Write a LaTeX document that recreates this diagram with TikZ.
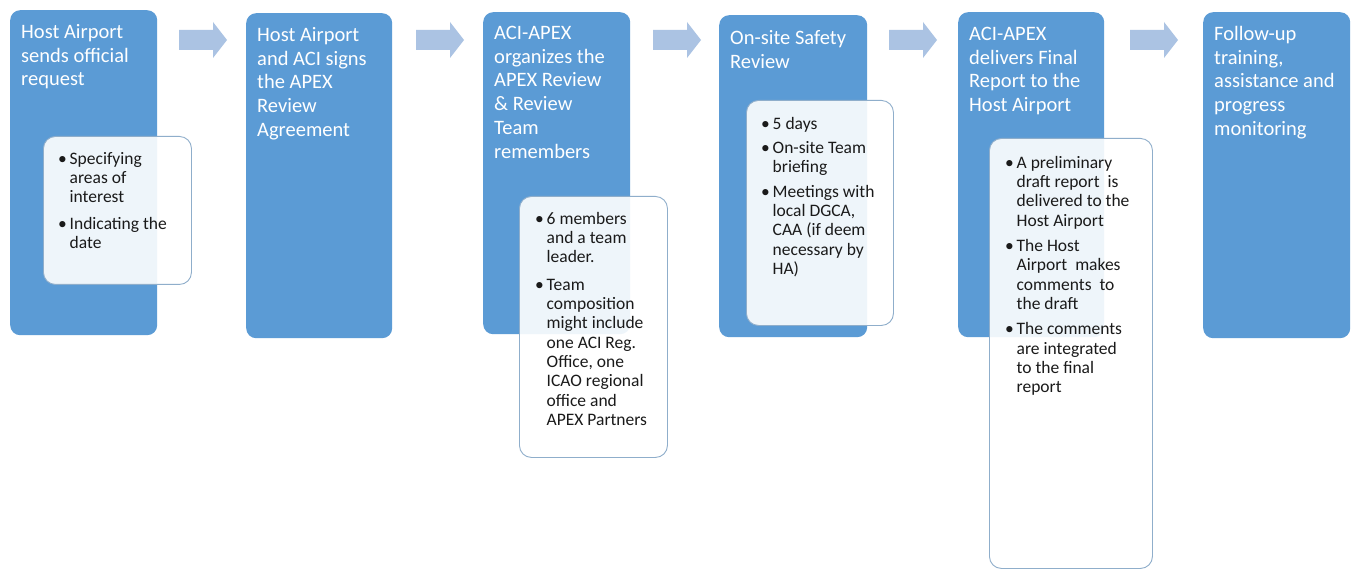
\documentclass[tikz,border=0pt]{standalone}
\usepackage{fontspec}
\setmainfont{Carlito}
\definecolor{boxblue}{HTML}{5B9BD5}
\definecolor{arrowblue}{HTML}{ABC3E3}
\definecolor{noteline}{HTML}{8FAECB}
\definecolor{notetext}{HTML}{1A1A1A}
\newcommand\bitem[1]{\makebox[11.5pt][l]{\textbullet}#1}
\newcommand\cont{\hspace*{11.5pt}}
\begin{document}
\begin{tikzpicture}[x=1pt,y=-1pt,
  stage/.style={fill=boxblue, rounded corners=10pt, anchor=north west, inner sep=0pt},
  stagetitle/.style={text=white, align=left, inner sep=0pt, anchor=north west,
    font=\fontsize{20.5}{23.7}\selectfont},
  notebox/.style={fill=white, fill opacity=0.9, draw=noteline, line width=0.9pt,
    rounded corners=12pt, anchor=north west, inner sep=0pt},
  notetxt/.style={text=notetext, align=left, inner sep=0pt, anchor=north west,
    font=\fontsize{17.5}{19.3}\selectfont},
  flow/.style={fill=arrowblue}]
\useasboundingbox (0,0) rectangle (1354,569);
\fill[white] (0,0) rectangle (1354,569);

% stage boxes
\node[stage, minimum width=147pt, minimum height=325pt] (s1) at (10,10) {};
\node[stage, minimum width=146pt, minimum height=325pt] (s2) at (246,13) {};
\node[stage, minimum width=147pt, minimum height=322pt] (s3) at (483,12) {};
\node[stage, minimum width=148pt, minimum height=322pt] (s4) at (719,15) {};
\node[stage, minimum width=146pt, minimum height=325pt] (s5) at (958,12) {};
\node[stage, minimum width=147pt, minimum height=326pt] (s6) at (1203,12) {};

% flow arrows
\foreach \n/\x in {a1/179, a2/416, a3/653, a4/889, a5/1130}{
  \coordinate (\n) at (\x,40);
  \fill[flow] (\n) ++(0,-10) -- ++(34,0) -- ++(0,-8) -- ++(14,18) -- ++(-14,18)
     -- ++(0,-8) -- ++(-34,0) -- cycle;
}

% note boxes
\node[notebox, minimum width=148pt, minimum height=148pt] (n1) at (43,136) {};
\node[notebox, minimum width=148pt, minimum height=261pt] (n3) at (519,196) {};
\node[notebox, minimum width=147pt, minimum height=225pt] (n4) at (746,100) {};
\node[notebox, minimum width=163pt, minimum height=430pt] (n5) at (989,138) {};

% titles
\node[stagetitle] (t1) at (21,24) {Host Airport\\sends official\\request};
\node[stagetitle] (t2) at (257,27) {Host Airport\\and ACI signs\\the APEX\\Review\\Agreement};
\node[stagetitle] (t3) at (494,26) {ACI-APEX\\organizes the\\APEX Review\\\&{} Review\\Team\\remembers};
\node[stagetitle] (t4) at (730,30) {On-site Safety\\Review};
\node[stagetitle] (t5) at (969,27) {ACI-APEX\\delivers Final\\Report to the\\Host Airport};
\node[stagetitle] (t6) at (1214,26) {Follow-up\\training,\\assistance and\\progress\\monitoring};

% note texts
\node[notetxt] (b1) at (58,152) {\bitem{Specifying}\\\cont areas of\\\cont interest\\[7pt]
  \bitem{Indicating the}\\\cont date};
\node[notetxt] (b3) at (535,212) {\bitem{6 members}\\\cont and a team\\\cont leader.\\[8pt]
  \bitem{Team}\\\cont composition\\\cont might include\\\cont one ACI Reg.\\\cont Office, one\\\cont ICAO regional\\\cont office and\\\cont APEX Partners};
\node[notetxt] (b4) at (761,117) {\bitem{5 days}\\[5pt]
  \bitem{On-site Team}\\\cont briefing\\[5pt]
  \bitem{Meetings with}\\\cont local DGCA,\\\cont CAA (if deem\\\cont necessary by\\\cont HA)};
\node[notetxt] (b5) at (1005,156) {\bitem{A preliminary}\\\cont draft report\ \ is\\\cont delivered to the\\\cont Host Airport\\[6pt]
  \bitem{The Host}\\\cont Airport\ \ makes\\\cont comments\ \ to\\\cont the draft\\[6pt]
  \bitem{The comments}\\\cont are integrated\\\cont to the final\\\cont report};
\end{tikzpicture}
\end{document}
